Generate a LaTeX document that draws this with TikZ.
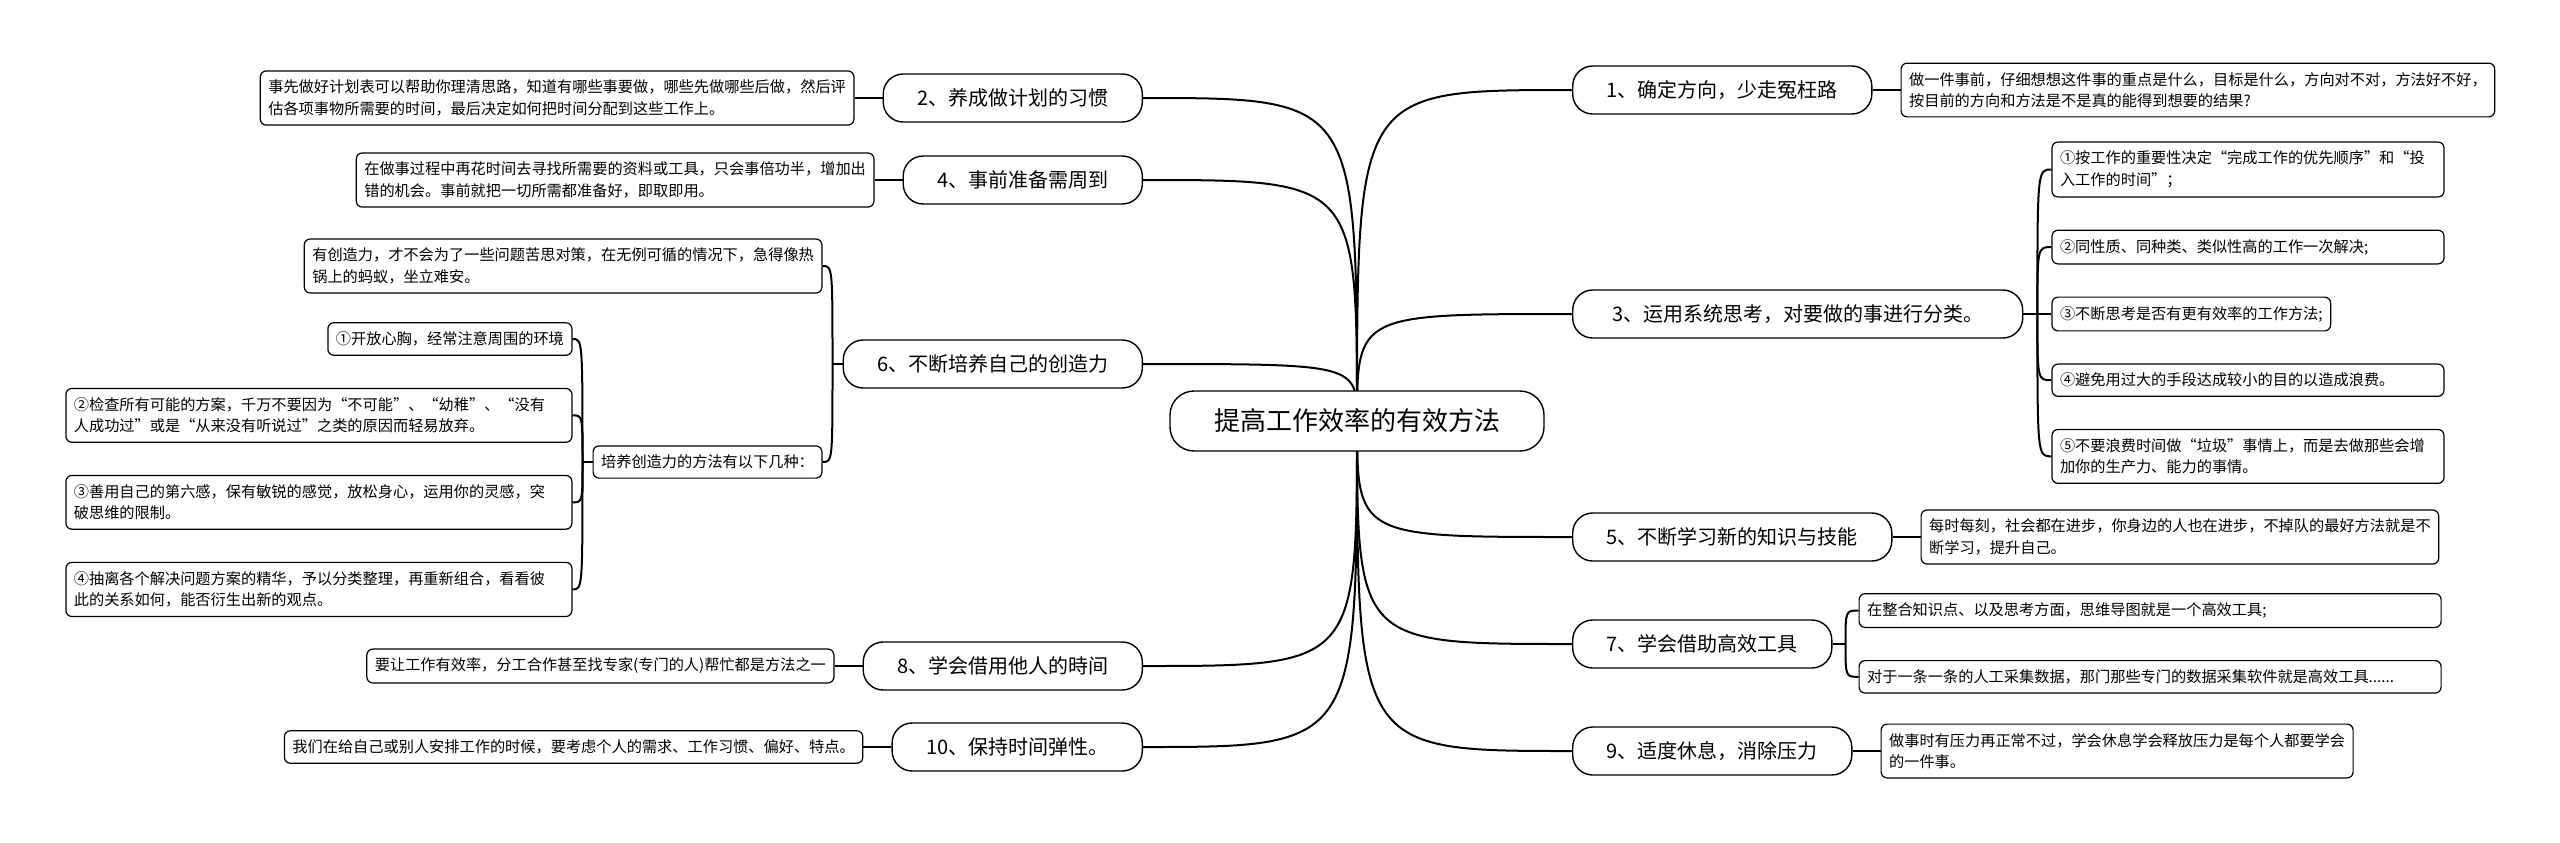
\documentclass[tikz,border=0pt]{standalone}
\usepackage{fontspec}
\setmainfont{Noto Sans CJK SC}
\usetikzlibrary{positioning,calc,backgrounds}

\begin{document}
\begin{tikzpicture}[x=0.5pt,y=-0.5pt,
root/.style={draw,line width=0.7pt,fill=white,rounded corners=12pt,
  minimum height=30pt,inner xsep=22pt,font=\fontsize{13}{15}\selectfont},
branch/.style={draw,line width=0.7pt,fill=white,rounded corners=10pt,
  minimum height=24pt,inner xsep=17pt,font=\fontsize{10}{12}\selectfont},
note/.style={draw,line width=0.6pt,fill=white,rounded corners=3pt,align=left,
  inner xsep=4pt,inner ysep=4.5pt,font=\fontsize{7.6}{10.8}\selectfont},
link/.style={line width=1pt}]

\begin{scope}[on background layer]
\fill[white,use as bounding box] (0,0) rectangle (2560,842);
\end{scope}

\node[root] (c) at (1357,421) {提高工作效率的有效方法};

% right side
\node[branch,anchor=west] (t1) at (1572,90) {1、确定方向，少走冤枉路};
\node[branch,anchor=west,minimum width=225pt] (t3) at (1572,314) {3、运用系统思考，对要做的事进行分类。};
\node[branch,anchor=west] (t5) at (1572,537) {5、不断学习新的知识与技能};
\node[branch,anchor=west] (t7) at (1572,644) {7、学会借助高效工具};
\node[branch,anchor=west] (t9) at (1572,751) {9、适度休息，消除压力};

% left side
\node[branch,anchor=east] (t2) at (1143,98) {2、养成做计划的习惯};
\node[branch,anchor=east] (t4) at (1143,180) {4、事前准备需周到};
\node[branch,anchor=east] (t6) at (1143,364) {6、不断培养自己的创造力};
\node[branch,anchor=east] (t8) at (1143,666) {8、学会借用他人的時间};
\node[branch,anchor=east] (t10) at (1143,747) {10、保持时间弹性。};

% notes right
\node[note,right=14pt of t1] (n1) {做一件事前，仔细想想这件事的重点是什么，目标是什么，方向对不对，方法好不好，\\按目前的方向和方法是不是真的能得到想要的结果?};
\node[note,right=14pt of t3] (s33) {③不断思考是否有更有效率的工作方法;};
\node[note,above=16pt of s33.north west,anchor=south west,text width=188pt] (s32) {②同性质、同种类、类似性高的工作一次解决;};
\node[note,above=16pt of s32.north west,anchor=south west,text width=188pt] (s31) {①按工作的重要性决定“完成工作的优先顺序”和“投\\入工作的时间”；};
\node[note,below=16pt of s33.south west,anchor=north west,text width=188pt] (s34) {④避免用过大的手段达成较小的目的以造成浪费。};
\node[note,below=16pt of s34.south west,anchor=north west,text width=188pt] (s35) {⑤不要浪费时间做“垃圾”事情上，而是去做那些会增\\加你的生产力、能力的事情。};
\node[note,right=14pt of t5] (n5) {每时每刻，社会都在进步，你身边的人也在进步，不掉队的最好方法就是不\\断学习，提升自己。};
\coordinate[right=13pt of t7] (k7);
\node[note,anchor=south west,text width=283pt] (n7a) at ([yshift=8pt]k7) {在整合知识点、以及思考方面，思维导图就是一个高效工具;};
\node[note,anchor=north west,text width=283pt] (n7b) at ([yshift=-8pt]k7) {对于一条一条的人工采集数据，那门那些专门的数据采集软件就是高效工具......};
\node[note,right=14pt of t9] (n9) {做事时有压力再正常不过，学会休息学会释放压力是每个人都要学会\\的一件事。};

% notes left
\node[note,left=14pt of t2] (n2) {事先做好计划表可以帮助你理清思路，知道有哪些事要做，哪些先做哪些后做，然后评\\估各项事物所需要的时间，最后决定如何把时间分配到这些工作上。};
\node[note,left=14pt of t4] (n4) {在做事过程中再花时间去寻找所需要的资料或工具，只会事倍功半，增加出\\错的机会。事前就把一切所需都准备好，即取即用。};
\coordinate[left=10pt of t6] (k6);
\node[note,anchor=east] (n6a) at (k6 |- 0,266) {有创造力，才不会为了一些问题苦思对策，在无例可循的情况下，急得像热\\锅上的蚂蚁，坐立难安。};
\node[note,anchor=east] (n6b) at (k6 |- 0,462) {培养创造力的方法有以下几种：};
\coordinate[left=10pt of n6b] (k6b);
\node[note,anchor=east] (s61) at (k6b |- 0,339) {①开放心胸，经常注意周围的环境};
\node[note,below=16pt of s61.south east,anchor=north east,text width=245pt] (s62) {②检查所有可能的方案，千万不要因为“不可能”、“幼稚”、“没有\\人成功过”或是“从来没有听说过”之类的原因而轻易放弃。};
\node[note,below=16pt of s62.south east,anchor=north east,text width=245pt] (s63) {③善用自己的第六感，保有敏锐的感觉，放松身心，运用你的灵感，突\\破思维的限制。};
\node[note,below=16pt of s63.south east,anchor=north east,text width=245pt] (s64) {④抽离各个解决问题方案的精华，予以分类整理，再重新组合，看看彼\\此的关系如何，能否衍生出新的观点。};
\node[note,left=14pt of t8] (n8) {要让工作有效率，分工合作甚至找专家(专门的人)帮忙都是方法之一};
\node[note,left=14pt of t10] (n10) {我们在给自己或别人安排工作的时候，要考虑个人的需求、工作习惯、偏好、特点。};

% root to branches
\begin{scope}[on background layer]
\foreach \br in {t1,t3,t5,t7,t9}
  \draw[link] (c.center) .. controls (c.center |- \br.west) .. (\br.west);
\foreach \br in {t2,t4,t6,t8,t10}
  \draw[link] (c.center) .. controls (c.center |- \br.east) .. (\br.east);
\end{scope}

% branches to notes
\foreach \br/\nd in {t1/n1,t3/s33,t5/n5,t9/n9,t2/n2,t4/n4,t8/n8,t10/n10}
  \draw[link] (\br) -- (\nd);

\coordinate (j3) at ($(t3.east)!0.5!(s33.west)$);
\foreach \nd in {s31,s32,s34,s35}
  \draw[link] (j3) .. controls (j3 |- \nd.west) .. (\nd.west);

\coordinate (j7) at ($(t7.east)!0.5!(k7)$);
\draw[link] (t7.east) -- (j7);
\foreach \nd in {n7a,n7b}
  \draw[link] (j7) .. controls (j7 |- \nd.west) .. (\nd.west);

\coordinate (j6) at ($(t6.west)!0.5!(k6)$);
\draw[link] (t6.west) -- (j6);
\foreach \nd in {n6a,n6b}
  \draw[link] (j6) .. controls (j6 |- \nd.east) .. (\nd.east);

\coordinate (j6b) at ($(n6b.west)!0.5!(k6b)$);
\draw[link] (n6b.west) -- (j6b);
\foreach \nd in {s61,s62,s63,s64}
  \draw[link] (j6b) .. controls (j6b |- \nd.east) .. (\nd.east);
\end{tikzpicture}
\end{document}
